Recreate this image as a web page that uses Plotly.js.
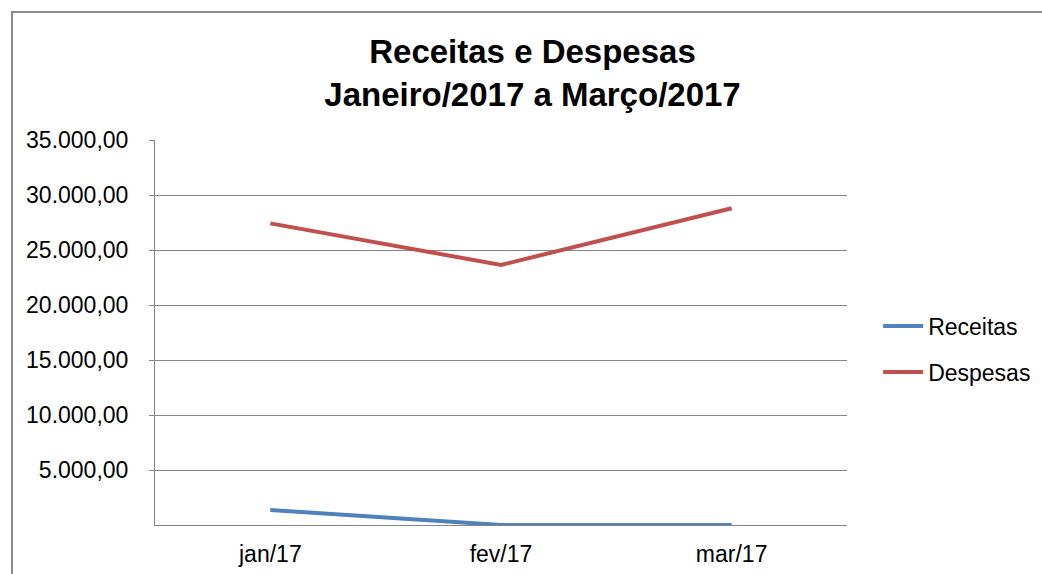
<!DOCTYPE html>
<html>
<head>
<meta charset="utf-8">
<script src="https://cdn.plot.ly/plotly-3.0.1.min.js"></script>
<style>
  html, body { margin: 0; padding: 0; background: #fff; overflow: hidden; }
  #wrap { position: relative; width: 1042px; height: 574px; }
  #chart { position: absolute; left: 0; top: 0; width: 1042px; height: 574px; }
  #frame { position: absolute; left: 11px; top: 11px; width: 1100px; height: 700px;
           border: 2px solid #8c8c8c; box-sizing: border-box; pointer-events: none; }
</style>
</head>
<body>
<div id="wrap">
  <div id="chart"></div>
  <div id="frame"></div>
</div>
<script>
const categories = ["jan/17", "fev/17", "mar/17"];
const receitas = [1360, 0, 0];
const despesas = [27420, 23640, 28790];
const yTicks = [5000, 10000, 15000, 20000, 25000, 30000, 35000];
const chartTitle = "Receitas e Despesas<br>Janeiro/2017 a Março/2017";

const FONT = "Liberation Sans, Arial, sans-serif";

const traces = [
  { x: categories, y: receitas, name: "Receitas", type: "scatter", mode: "lines",
    legendgroup: "a", line: { color: "#4F81BD", width: 4 } },
  { x: categories, y: despesas, name: "Despesas", type: "scatter", mode: "lines",
    legendgroup: "b", line: { color: "#C0504D", width: 4 } }
];

const layout = {
  width: 1042, height: 574,
  separators: ",.",
  paper_bgcolor: "#ffffff", plot_bgcolor: "#ffffff",
  margin: { l: 155, r: 195, t: 140, b: 49, autoexpand: false },
  font: { family: FONT, color: "#000000", size: 23 },
  title: {
    text: chartTitle,
    font: { family: FONT, size: 33, color: "#000000", weight: "bold" },
    x: 532.5 / 1042, xref: "container", xanchor: "center",
    y: 1 - 63 / 574, yref: "container", yanchor: "top"
  },
  xaxis: {
    type: "category", range: [-0.5, 2.5],
    showgrid: false, zeroline: false,
    showline: true, linecolor: "#868686", linewidth: 1,
    ticks: "", tickfont: { size: 23, family: FONT, color: "#000" },
    ticklabelstandoff: 8
  },
  yaxis: {
    range: [0, 35000],
    tickvals: yTicks, tickformat: ",.2f",
    showgrid: true, gridcolor: "#868686", gridwidth: 1,
    zeroline: false,
    showline: true, linecolor: "#868686", linewidth: 1,
    ticks: "outside", ticklen: 5, tickcolor: "#868686",
    tickfont: { size: 23, family: FONT, color: "#000" },
    ticklabelstandoff: 16
  },
  legend: {
    x: 1.045, xanchor: "left", y: 0.457, yanchor: "middle",
    font: { size: 23, family: FONT, color: "#000" },
    traceorder: "grouped", tracegroupgap: 13,
    bgcolor: "rgba(0,0,0,0)", itemwidth: 40
  },
  showlegend: true
};

Plotly.newPlot("chart", traces, layout, { staticPlot: true, displayModeBar: false });
</script>
</body>
</html>
